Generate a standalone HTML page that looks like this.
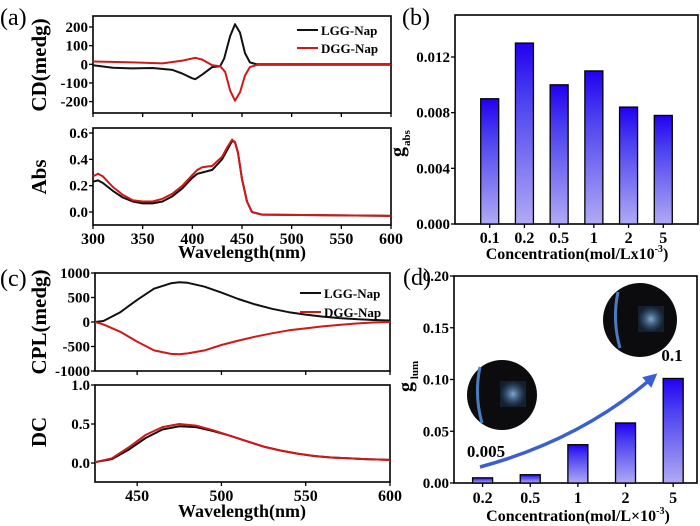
<!DOCTYPE html>
<html><head><meta charset="utf-8"><style>
body{margin:0;background:#fff}
svg{display:block;font-family:"Liberation Serif",serif;font-weight:bold}
</style></head><body>
<svg id="fig" width="700" height="526" viewBox="0 0 700 526" xmlns="http://www.w3.org/2000/svg">
<defs>
<linearGradient id="bg" x1="0" y1="0" x2="0" y2="1"><stop offset="0" stop-color="#2200f0"/><stop offset="0.3" stop-color="#4a3ff0"/><stop offset="1" stop-color="#b0aaf4"/></linearGradient>
<radialGradient id="glow"><stop offset="0" stop-color="#9fd0ff"/><stop offset="1" stop-color="#2a5e9a" stop-opacity="0.3"/></radialGradient>
<marker id="ah" viewBox="0 0 10 10" refX="5" refY="5" markerWidth="4" markerHeight="4" orient="auto"><path d="M0,0L10,5L0,10z" fill="#3a5fd0"/></marker>
</defs>
<text x="0" y="25" font-size="24" font-weight="normal">(a)</text>
<text x="402" y="25" font-size="24" font-weight="normal">(b)</text>
<text x="0" y="286" font-size="24" font-weight="normal">(c)</text>
<text x="403" y="285" font-size="24" font-weight="normal">(d)</text>
<g id="root"></g>
</svg>
<script>
// ---- data ----
const cdWl=[300,320,340,360,380,390,400,403,410,420,428,432,438,443,448,453,458,465,600];
const cdL=[-5,-18,-22,-20,-30,-50,-75,-80,-55,-15,-10,30,150,215,170,60,10,0,0];
const cdWlR=[300,340,370,390,403,410,420,428,433,438,443,448,453,458,465,600];
const cdD=[15,10,5,20,35,25,-5,-10,-40,-140,-195,-150,-60,-15,-3,-3];
const absWl=[300,305,310,320,330,340,350,360,370,380,390,400,405,410,420,430,435,440,443,446,450,455,460,470,600];
const absL=[0.23,0.24,0.22,0.16,0.11,0.08,0.065,0.065,0.08,0.12,0.18,0.26,0.29,0.30,0.32,0.40,0.47,0.54,0.53,0.45,0.25,0.08,0.0,-0.02,-0.03];
const absD=[0.27,0.29,0.27,0.19,0.13,0.09,0.08,0.08,0.10,0.14,0.20,0.28,0.32,0.34,0.35,0.42,0.49,0.55,0.53,0.45,0.25,0.08,0.0,-0.02,-0.03];
const cplWl=[425,430,440,450,460,470,475,480,490,500,510,520,530,540,550,560,570,580,590,600];
const cplL=[0,20,200,450,680,790,810,800,720,600,470,360,270,200,150,110,80,60,40,30];
const cplD=[0,-50,-200,-400,-580,-650,-660,-640,-580,-470,-380,-300,-230,-170,-130,-90,-60,-30,-10,0];
const dcWl=[425,435,445,455,465,475,485,495,505,515,525,535,545,555,565,575,585,600];
const dcL=[0.01,0.05,0.17,0.32,0.43,0.47,0.46,0.41,0.35,0.28,0.21,0.16,0.12,0.09,0.07,0.06,0.05,0.04];
const dcD=[0.01,0.06,0.20,0.36,0.46,0.50,0.48,0.42,0.35,0.28,0.21,0.16,0.12,0.09,0.07,0.06,0.05,0.04];
const gAbsCats=["0.1","0.2","0.5","1","2","5"];
const gAbsVals=[0.009,0.013,0.010,0.011,0.0084,0.0078];
const gLumCats=["0.2","0.5","1","2","5"];
const gLumVals=[0.005,0.008,0.037,0.058,0.101];
const wlTicksA=[300,350,400,450,500,550,600];
const wlTicksC=[450,500,550,600];
const cdTicks=[-200,-100,0,100,200];
const absTicks=[0,0.2,0.4,0.6];
const cplTicks=[-1000,-500,0,500,1000];
const dcTicks=[0,0.5,1.0];
const gAbsTicks=[0,0.004,0.008,0.012];
const gLumTicks=[0,0.05,0.10,0.15,0.20];

const NS="http://www.w3.org/2000/svg";
const root=document.getElementById('root');
function el(tag,attrs,parent){const e=document.createElementNS(NS,tag);for(const k in attrs)e.setAttribute(k,attrs[k]);(parent||root).appendChild(e);return e;}
function lin(d0,d1,r0,r1){return v=>r0+(v-d0)/(d1-d0)*(r1-r0);}
function txt(x,y,s,size,anchor,name){const t=el('text',{x:x,y:y,'font-size':size,'text-anchor':anchor||'middle'});t.textContent=s;


return t;}
function frame(x0,y0,x1,y1,name){const r=el('rect',{x:x0,y:y0,width:x1-x0,height:y1-y0,fill:'none',stroke:'#000','stroke-width':1.6});

}
function yTicks(ticks,sy,x0,fmt,name){ticks.forEach(v=>{const y=sy(v);el('line',{x1:x0-4,x2:x0,y1:y,y2:y,stroke:'#000','stroke-width':1.3});txt(x0-5,y+5,fmt(v),15,'end',name);});}
function xTicks(ticks,sx,y0,lab,name){ticks.forEach(v=>{const x=sx(v);el('line',{x1:x,x2:x,y1:y0,y2:y0+4,stroke:'#000','stroke-width':1.3});if(lab)txt(x,y0+19,String(v),16,'middle',name);});}
function curve(xs,ys,sx,sy,color,name){const d=xs.map((x,i)=>(i?'L':'M')+sx(x).toFixed(1)+','+sy(ys[i]).toFixed(1)).join('');const p=el('path',{d:d,fill:'none',stroke:color,'stroke-width':2,'stroke-linejoin':'round'});

}
function concTitle(x,y,sym,name){const t=el('text',{x:x,y:y,'font-size':16,'text-anchor':'middle'});


t.appendChild(document.createTextNode('Concentration(mol/L'+sym+'10'));
const sp=el('tspan',{dy:-7,'font-size':10},t);sp.textContent='-3';
const sp2=el('tspan',{dy:7},t);sp2.textContent=')';}

// Panel a: CD
{const sx=lin(300,600,93,391),sy=lin(0,200,64.3,27);
frame(93,16,391,113,'cd-plot-frame');
yTicks(cdTicks,sy,93,v=>String(v),'cd-y-tick');xTicks(wlTicksA,sx,113,false,'cd-x-tick');
curve(cdWl,cdL,sx,sy,'#111','cd-lgg-line');curve(cdWlR,cdD,sx,sy,'#d01818','cd-dgg-line');
const t=txt(0,0,'CD(medg)',21,'middle','cd-y-title');t.setAttribute('transform','translate(46,65) rotate(-90)');
el('line',{x1:297,x2:318,y1:30,y2:30,stroke:'#111','stroke-width':2});txt(321,35,'LGG-Nap',13,'start','legend-lgg-a');
el('line',{x1:297,x2:318,y1:48,y2:48,stroke:'#d01818','stroke-width':2});txt(321,53,'DGG-Nap',13,'start','legend-dgg-a');}
// Panel a: Abs
{const sx=lin(300,600,93,391),sy=lin(0,0.6,212,133);
frame(93,128,391,225,'abs-plot-frame');
yTicks(absTicks,sy,93,v=>v.toFixed(1),'abs-y-tick');xTicks(wlTicksA,sx,225,true,'abs-x-tick');
curve(absWl,absL,sx,sy,'#111','abs-lgg-line');curve(absWl,absD,sx,sy,'#d01818','abs-dgg-line');
const t=txt(0,0,'Abs',21,'middle','abs-y-title');t.setAttribute('transform','translate(46,177) rotate(-90)');
txt(242,258,'Wavelength(nm)',18,'middle','x-axis-title-a');}
// Panel c: CPL
{const sx=lin(425,600,95,390),sy=lin(0,1000,322,273);
frame(95,273,390,371,'cpl-plot-frame');
yTicks(cplTicks,sy,95,v=>String(v),'cpl-y-tick');xTicks(wlTicksC,sx,371,false,'cpl-x-tick');
curve(cplWl,cplL,sx,sy,'#111','cpl-lgg-line');curve(cplWl,cplD,sx,sy,'#d01818','cpl-dgg-line');
const t=txt(0,0,'CPL(medg)',21,'middle','cpl-y-title');t.setAttribute('transform','translate(46,322) rotate(-90)');
el('line',{x1:300,x2:321,y1:293,y2:293,stroke:'#111','stroke-width':2});txt(324,298,'LGG-Nap',13,'start','legend-lgg-c');
el('line',{x1:300,x2:321,y1:312,y2:312,stroke:'#d01818','stroke-width':2});txt(324,317,'DGG-Nap',13,'start','legend-dgg-c');}
// Panel c: DC
{const sx=lin(425,600,95,390),sy=lin(0,1,463,385);
frame(95,385,390,482,'dc-plot-frame');
yTicks(dcTicks,sy,95,v=>v.toFixed(1),'dc-y-tick');xTicks(wlTicksC,sx,482,true,'dc-x-tick');
curve(dcWl,dcL,sx,sy,'#111','dc-lgg-line');curve(dcWl,dcD,sx,sy,'#d01818','dc-dgg-line');
const t=txt(0,0,'DC',21,'middle','dc-y-title');t.setAttribute('transform','translate(46,432) rotate(-90)');
txt(242,517,'Wavelength(nm)',18,'middle','x-axis-title-c');}
// Panel b
{const sx=lin(-1,6,455,698),sy=lin(0,0.012,224,57);
frame(455,15,698,224,'gabs-plot-frame');
yTicks(gAbsTicks,sy,455,v=>v.toFixed(3),'gabs-y-tick');
gAbsVals.forEach((v,i)=>{const x=sx(i);const r=el('rect',{x:x-9,y:sy(v),width:18,height:224-sy(v),fill:'url(#bg)',stroke:'#000','stroke-width':1.3});


el('line',{x1:x,x2:x,y1:224,y2:228,stroke:'#000','stroke-width':1.3});txt(x,243,gAbsCats[i],16,'middle','gabs-x-tick');});
const t=txt(0,0,'g',20,'middle','gabs-y-title');t.setAttribute('transform','translate(404,152) rotate(-90)');
const s=txt(0,0,'abs',11,'middle','gabs-y-title-sub');s.setAttribute('transform','translate(410,138) rotate(-90)');
concTitle(577,259,'x','gabs-x-title');}
// Panel d
{const sx=lin(-0.6,4.5,454,697),sy=lin(0,0.2,483,276);
frame(454,276,697,483,'glum-plot-frame');
yTicks(gLumTicks,sy,454,v=>v.toFixed(2),'glum-y-tick');
gLumVals.forEach((v,i)=>{const x=sx(i);const r=el('rect',{x:x-10,y:sy(v),width:20,height:483-sy(v),fill:'url(#bg)',stroke:'#000','stroke-width':1.3});


el('line',{x1:x,x2:x,y1:483,y2:487,stroke:'#000','stroke-width':1.3});txt(x,503,gLumCats[i],16,'middle','glum-x-tick');});
const t=txt(0,0,'g',20,'middle','glum-y-title');t.setAttribute('transform','translate(412,387) rotate(-90)');
const s=txt(0,0,'lum',11,'middle','glum-y-title-sub');s.setAttribute('transform','translate(418,370) rotate(-90)');
concTitle(578,521,'×','glum-x-title');
txt(486,457,'0.005',17,'middle','label-0005');txt(672,361,'0.1',17,'middle','label-01');
const a=el('path',{d:'M480,467 Q580,440 652,378',fill:'none',stroke:'#3a5fd0','stroke-width':3.5,'marker-end':'url(#ah)'});


[[502,395,35],[640,320,37]].forEach((c,i)=>{const g=el('g',{});


el('circle',{cx:c[0],cy:c[1],r:c[2],fill:'#0c0c0e'},g);
el('path',{d:`M${c[0]-22},${c[1]-28} q-6,28 2,56`,stroke:'#4a7cc0','stroke-width':3,fill:'none'},g);
el('rect',{x:c[0]-2,y:c[1]-14,width:26,height:26,fill:'url(#glow)',opacity:0.8},g);});}
</script>
</body></html>
